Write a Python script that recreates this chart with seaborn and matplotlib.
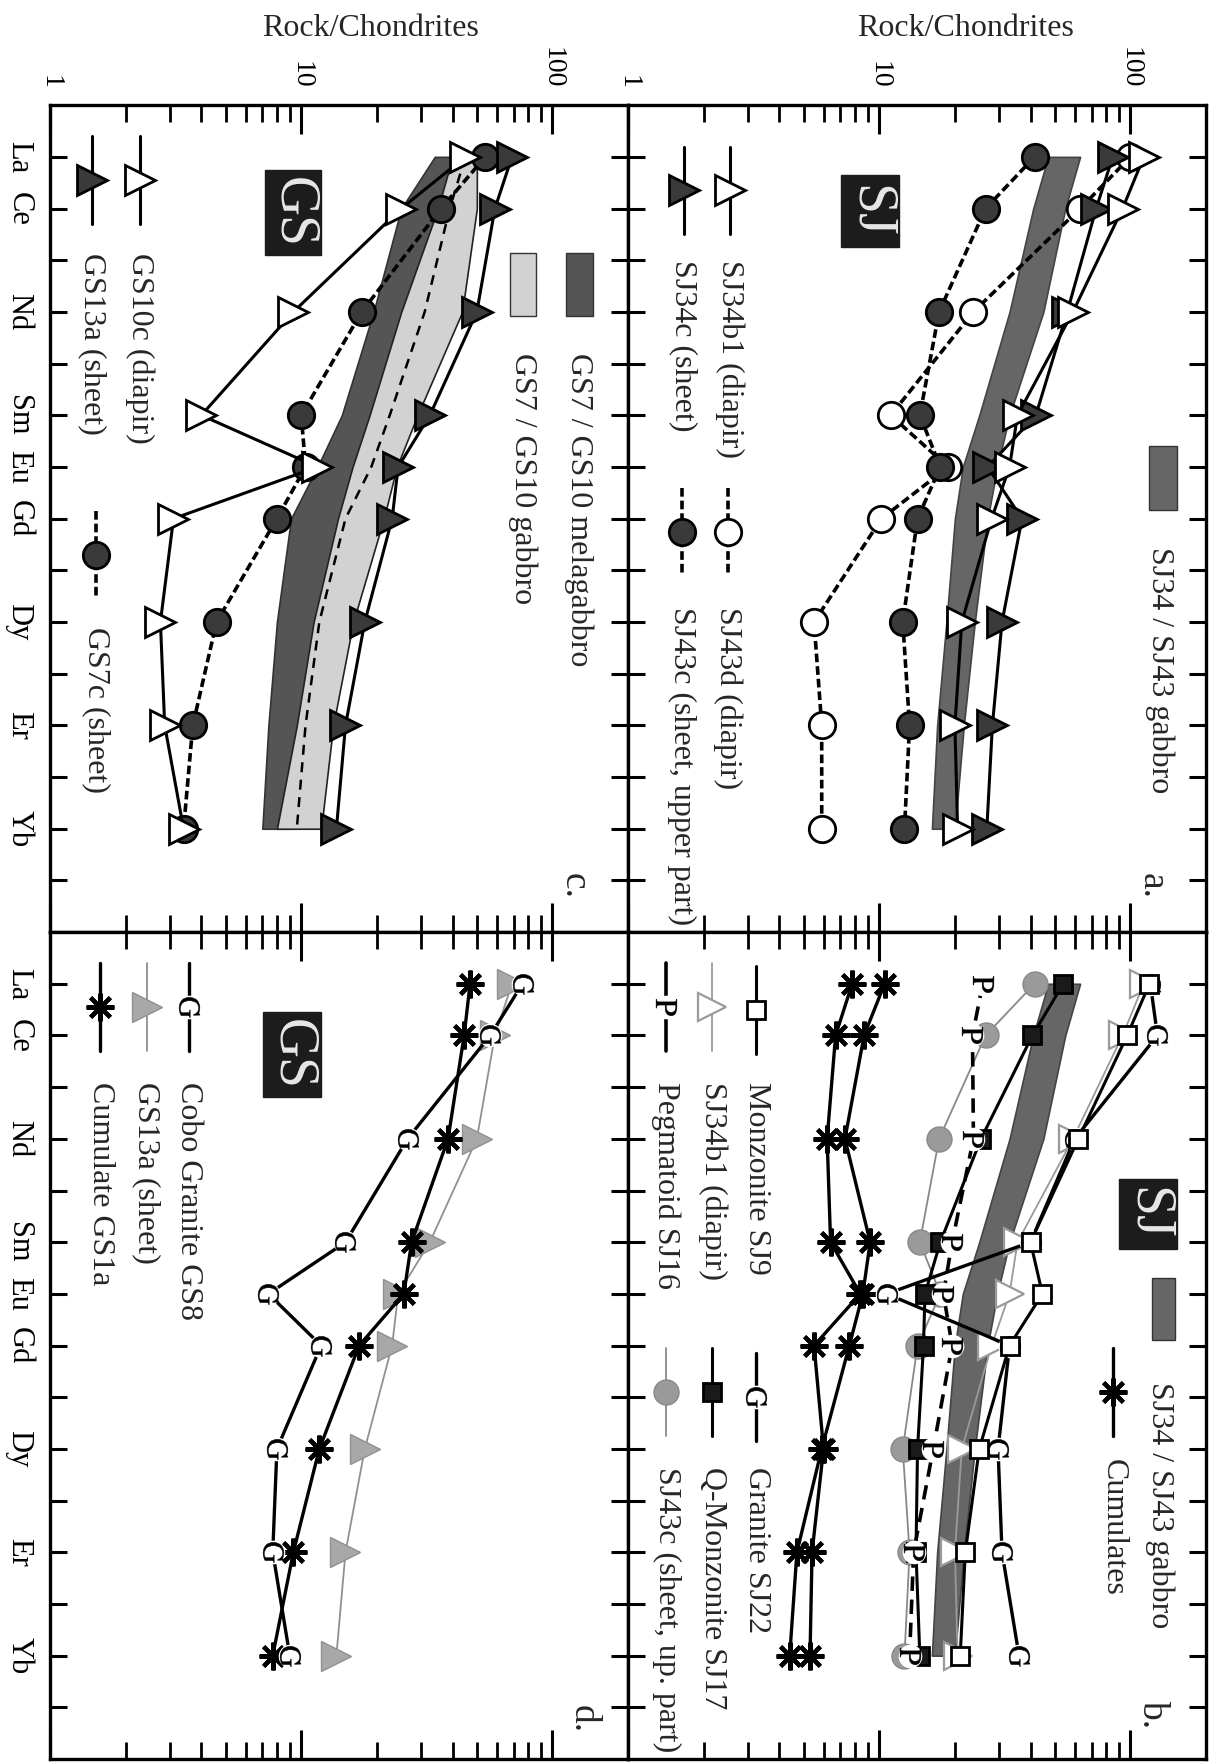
import matplotlib
matplotlib.use("Agg")
import matplotlib.pyplot as plt
import seaborn as sns
from matplotlib.markers import MarkerStyle
from matplotlib.patches import Rectangle
from matplotlib.transforms import Affine2D
from matplotlib.ticker import FixedLocator, FixedFormatter, LogLocator, NullFormatter

# REE on the (rotated) element axis, placed by atomic number
ree = ["La", "Ce", "Nd", "Sm", "Eu", "Gd", "Dy", "Er", "Yb"]
ree_z = [57, 58, 60, 62, 63, 64, 66, 68, 70]

# SJ samples (panels a, b), rock / chondrite
sj34b1 = [113, 93, 59, 35.5, 33, 28, 21.3, 20, 20.5]
sj34c = [85, 73, 56, 42, 27, 37, 30.8, 28.2, 26.8]
sj43d = [100, 63, 23.7, 11.1, 18.8, 10.2, 5.5, 5.9, 5.9]
sj43c = [41.5, 26.5, 17.3, 14.5, 17.5, 14.2, 12.4, 13.2, 12.6]
sj_gabbro_lo = [47, 41, 33, 25, 21.5, 20, 18.5, 17, 16.2]
sj_gabbro_hi = [63, 55, 45, 33, 29.5, 27, 24, 21.7, 20]
sj9_monzonite = [119, 97, 62, 40, 44.6, 33, 25, 22, 21]
sj22_granite = [120, 128, 60, 40, 10.7, 33, 29.7, 30.8, 36]
sj16_pegmatoid = [25.8, 23.5, 23.7, 19.5, 18, 19.5, 16.4, 13.7, 13.2]
sj17_qmonzonite = [54, 40.7, 25.4, 17.5, 15.2, 15, 14.2, 14, 14.5]
sj_cumulate_1 = [10.5, 8.7, 7.3, 9.2, 8.6, 7.6, 5.9, 4.7, 4.4]
sj_cumulate_2 = [7.8, 6.7, 6.2, 6.4, 8.4, 5.5, 6.0, 5.4, 5.3]

# GS samples (panels c, d)
gs10c = [45, 25, 9.3, 4.0, 11.6, 3.1, 2.75, 2.86, 3.4]
gs13a = [69, 59, 50, 32.5, 24.3, 23, 17.9, 15, 13.8]
gs7c = [54, 36, 17.4, 10, 10.4, 8.0, 4.6, 3.7, 3.4]
gs_melagabbro_lo = [34, 25, 19.4, 14.5, 11.6, 9.1, 8, 7.4, 7.0]
gs_melagabbro_hi = [42, 36, 28, 21.7, 16.7, 14.5, 11.6, 10.4, 9.0]
gs_gabbro_lo = [40, 35, 25, 18.7, 16, 14, 11.2, 9.6, 8.0]
gs_gabbro_hi = [50, 50, 43.7, 29, 24, 21.3, 16.1, 13.4, 12]
gs_gabbro_mid = [45, 39, 31, 22.5, 19, 15, 11.8, 10.4, 9.6]
gs8_granite = [76, 56.5, 26.5, 15, 7.4, 12, 8.0, 7.7, 9.0]
gs1a_cumulate = [47, 44.5, 38.4, 27.5, 25.6, 17, 11.8, 9.3, 7.7]

sns.set_style("ticks", {"axes.edgecolor": "black", "xtick.color": "black", "ytick.color": "black"})
plt.rcParams["font.family"] = ["Liberation Serif", "DejaVu Serif"]
plt.rcParams["mathtext.fontset"] = "stix"

K = "black"
DARK = "#3a3a3a"
GREY = "#9a9a9a"
FS = 23


def letter(ch):
    return MarkerStyle(r"$\mathrm{%s}$" % ch, transform=Affine2D().rotate_deg(-90))


def style(marker, ms, mfc, mec=K, color=K, lw=2.2, ls="-", mew=2.0):
    return dict(marker=marker, markersize=ms, markerfacecolor=mfc, markeredgecolor=mec,
                markeredgewidth=mew, color=color, linewidth=lw, linestyle=ls)


DASH = (0, (2.4, 1.1))
LONGDASH = (0, (4.0, 2.4))
S_OPEN_TRI = style(">", 22, "white")
S_FILL_TRI = style(">", 22, DARK)
S_OPEN_CIRC = style("o", 19, "white", ls=DASH, lw=2.6)
S_FILL_CIRC = style("o", 19, DARK, ls=DASH, lw=2.6)
S_OPEN_SQ = style("s", 12.5, "white")
S_FILL_SQ = style("s", 12.5, "#1a1a1a")
S_GREY_TRI = style(">", 20, "white", mec=GREY, color=GREY, lw=1.3, mew=1.6)
S_GREY_CIRC = style("o", 18, GREY, mec="#888888", color="#888888", lw=1.3, mew=1.0)
S_GREY_TRI_FILL = style(">", 21, "#a8a8a8", mec="#909090", color="#909090", lw=1.3, mew=1.0)
S_STAR = style((8, 2, 90), 20, K, lw=2.4, mew=3.0)
S_G = style(None, 0, K, lw=2.4)
S_P = style(None, 0, K, lw=2.6, ls=LONGDASH)
S_P_KEY = style(None, 0, K, lw=2.6)


def spider(ax, values, st, z=3):
    sns.lineplot(x=values, y=ree_z, ax=ax, sort=False, estimator=None, errorbar=None,
                 zorder=z, **st)


def letters(ax, values, ch, z=5):
    ax.plot(values, ree_z, ls="none", marker="o", ms=17, mfc="white", mec="none", zorder=z)
    ax.plot(values, ree_z, ls="none", marker=letter(ch), ms=15, mfc=K, mec=K, mew=0.3, zorder=z + 1)


def band(ax, lo, hi, face, edge="#333333", z=2):
    ax.fill_betweenx(ree_z, lo, hi, facecolor=face, edgecolor=edge, linewidth=1.2, zorder=z)


def key(ax, xf, zm, zt, label, st, span=(-0.85, 0.85), ch=None):
    tr = ax.get_yaxis_transform()
    ax.plot([xf, xf], [zm + span[0], zm + span[1]], transform=tr, color=st["color"],
            lw=st["linewidth"], ls=st["linestyle"], zorder=6)
    if ch is not None:
        ax.plot([xf], [zm], transform=tr, ls="none", marker="o", ms=17, mfc="white", mec="none", zorder=7)
        ax.plot([xf], [zm], transform=tr, ls="none", marker=letter(ch), ms=15, mfc=K, mec=K,
                mew=0.3, zorder=8)
    elif st["marker"] is not None:
        ax.plot([xf], [zm], transform=tr, ls="none", marker=st["marker"], ms=st["markersize"],
                mfc=st["markerfacecolor"], mec=st["markeredgecolor"], mew=st["markeredgewidth"],
                zorder=7)
    ax.text(xf, zt, label, transform=tr, rotation=-90, ha="center", va="top", fontsize=FS)


def patch_key(ax, x0, x1, z0, z1, face, xt, zt, label):
    tr = ax.get_yaxis_transform()
    ax.add_patch(Rectangle((x0, z0), x1 - x0, z1 - z0, transform=tr, facecolor=face,
                           edgecolor="#333333", lw=1.0, zorder=6))
    ax.text(xt, zt, label, transform=tr, rotation=-90, ha="center", va="top", fontsize=FS)


def tag_box(ax, x0, x1, z0, z1, label):
    tr = ax.get_yaxis_transform()
    ax.add_patch(Rectangle((x0, z0), x1 - x0, z1 - z0, transform=tr, facecolor="#1c1c1c",
                           edgecolor="#1c1c1c", zorder=6))
    ax.text((x0 + x1) / 2, (z0 + z1) / 2, label, transform=tr, rotation=-90, ha="center",
            va="center", fontsize=40, color="#e8e8e8", zorder=7)


def panel_letter(ax, xf, zt, label):
    ax.text(xf, zt, label, transform=ax.get_yaxis_transform(), rotation=-90, ha="center",
            va="top", fontsize=27)


def setup(ax, top_labels, left_labels, label_x):
    ax.set_xscale("log")
    ax.xaxis.set_major_locator(FixedLocator([1, 10, 100]))
    ax.xaxis.set_major_formatter(FixedFormatter(["1", "10", "100"]))
    ax.xaxis.set_minor_locator(LogLocator(base=10, subs=range(2, 10)))
    ax.xaxis.set_minor_formatter(NullFormatter())
    zt = list(range(57, 72))
    names = dict(zip(ree_z, ree))
    ax.yaxis.set_major_locator(FixedLocator(zt))
    ax.yaxis.set_major_formatter(FixedFormatter([names.get(z, "") for z in zt]))
    ax.tick_params(axis="x", which="major", direction="in", length=21, width=2.2,
                   top=True, bottom=True, labeltop=top_labels, labelbottom=False,
                   labelsize=20, labelrotation=-90, pad=12)
    ax.tick_params(axis="x", which="minor", direction="in", length=12, width=2.0,
                   top=True, bottom=True)
    ax.tick_params(axis="y", which="major", direction="in", length=12, width=2.2,
                   left=True, right=True, labelleft=left_labels, labelright=False,
                   labelsize=22, labelrotation=-90, pad=12)
    for sp in ax.spines.values():
        sp.set_linewidth(2.4)
        sp.set_color(K)
    if top_labels:
        ax.text(label_x, 1.093, "Rock/Chondrites", transform=ax.transAxes, ha="center",
                va="center", fontsize=FS)


def finish(ax):
    ax.set_xlim(1, 200)
    ax.set_ylim(72, 56)
    ax.set_xlabel("")
    ax.set_ylabel("")
    plt.setp(ax.get_yticklabels(), va="center")


fig = plt.figure(figsize=(12.21, 17.62), dpi=100)
W, H = 0.4734, 0.4693
X0, Y0 = 0.041, 0.0017
ax_c = fig.add_axes([X0, Y0 + H, W, H])
ax_a = fig.add_axes([X0 + W, Y0 + H, W, H])
ax_d = fig.add_axes([X0, Y0, W, H])
ax_b = fig.add_axes([X0 + W, Y0, W, H])

setup(ax_a, True, False, 0.583)
setup(ax_b, False, False, 0.583)
setup(ax_c, True, True, 0.554)
setup(ax_d, False, True, 0.554)

# ---- a. SJ gabbro and its samples
band(ax_a, sj_gabbro_lo, sj_gabbro_hi, "#666666", "#444444")
spider(ax_a, sj43d, S_OPEN_CIRC)
spider(ax_a, sj43c, S_FILL_CIRC)
spider(ax_a, sj34c, S_FILL_TRI)
spider(ax_a, sj34b1, S_OPEN_TRI)
tag_box(ax_a, 0.368, 0.468, 57.35, 58.74, "SJ")
key(ax_a, 0.176, 57.65, 59.0, "SJ34b1 (diapir)", S_OPEN_TRI)
key(ax_a, 0.096, 57.65, 59.0, "SJ34c (sheet)", S_FILL_TRI)
key(ax_a, 0.172, 64.26, 65.7, "SJ43d (diapir)", S_OPEN_CIRC)
key(ax_a, 0.093, 64.26, 65.7, "SJ43c (sheet, upper part)", S_FILL_CIRC)
patch_key(ax_a, 0.902, 0.949, 62.6, 63.84, "#666666", 0.919, 64.55, "SJ34 / SJ43 gabbro")
panel_letter(ax_a, 0.906, 70.85, "a.")

# ---- b. SJ differentiates and cumulates
band(ax_b, sj_gabbro_lo, sj_gabbro_hi, "#666666", "#444444")
spider(ax_b, sj43c, S_GREY_CIRC)
spider(ax_b, sj34b1, S_GREY_TRI)
spider(ax_b, sj_cumulate_1, S_STAR)
spider(ax_b, sj_cumulate_2, S_STAR)
spider(ax_b, sj16_pegmatoid, S_P)
letters(ax_b, sj16_pegmatoid, "P")
spider(ax_b, sj17_qmonzonite, S_FILL_SQ)
spider(ax_b, sj22_granite, S_G)
letters(ax_b, sj22_granite, "G")
spider(ax_b, sj9_monzonite, S_OPEN_SQ, z=7)
tag_box(ax_b, 0.849, 0.949, 60.77, 62.13, "SJ")
patch_key(ax_b, 0.906, 0.946, 62.7, 63.9, "#666666", 0.919, 64.7, "SJ34 / SJ43 gabbro")
key(ax_b, 0.839, 64.9, 66.2, "Cumulates", S_STAR)
key(ax_b, 0.222, 57.5, 58.9, "Monzonite SJ9", S_OPEN_SQ)
key(ax_b, 0.146, 57.45, 58.9, "SJ34b1 (diapir)", S_GREY_TRI)
key(ax_b, 0.066, 57.45, 58.9, "Pegmatoid SJ16", S_P_KEY, ch="P")
key(ax_b, 0.222, 65.0, 66.35, "Granite SJ22", S_G, ch="G")
key(ax_b, 0.146, 64.9, 66.35, "Q-Monzonite SJ17", S_FILL_SQ)
key(ax_b, 0.066, 64.9, 66.35, "SJ43c (sheet, up. part)", S_GREY_CIRC)
panel_letter(ax_b, 0.906, 70.85, "b.")

# ---- c. GS gabbros
band(ax_c, gs_melagabbro_lo, gs_melagabbro_hi, "#555555", "#333333")
band(ax_c, gs_gabbro_lo, gs_gabbro_hi, "#d2d2d2", "#222222")
sns.lineplot(x=gs_gabbro_mid, y=ree_z, ax=ax_c, sort=False, estimator=None, errorbar=None,
             color=K, linewidth=1.8, linestyle=(0, (4, 3)), zorder=2.5)
spider(ax_c, gs7c, S_FILL_CIRC)
spider(ax_c, gs10c, S_OPEN_TRI)
spider(ax_c, gs13a, S_FILL_TRI)
tag_box(ax_c, 0.372, 0.469, 57.26, 58.9, "GS")
patch_key(ax_c, 0.893, 0.939, 58.86, 60.08, "#555555", 0.914, 60.8, "GS7 / GS10 melagabbro")
patch_key(ax_c, 0.796, 0.841, 58.86, 60.08, "#d2d2d2", 0.817, 60.8, "GS7 / GS10 gabbro")
key(ax_c, 0.156, 57.45, 58.86, "GS10c (diapir)", S_OPEN_TRI)
key(ax_c, 0.073, 57.45, 58.86, "GS13a (sheet)", S_FILL_TRI)
key(ax_c, 0.08, 64.7, 66.1, "GS7c (sheet)", S_FILL_CIRC)
panel_letter(ax_c, 0.907, 70.85, "c.")

# ---- d. GS granite and cumulate
spider(ax_d, gs13a, S_GREY_TRI_FILL)
spider(ax_d, gs1a_cumulate, S_STAR)
spider(ax_d, gs8_granite, S_G)
letters(ax_d, gs8_granite, "G")
tag_box(ax_d, 0.368, 0.469, 57.55, 59.2, "GS")
key(ax_d, 0.24, 57.45, 58.9, "Cobo Granite GS8", S_G, ch="G")
key(ax_d, 0.167, 57.45, 58.9, "GS13a (sheet)", S_GREY_TRI_FILL)
key(ax_d, 0.087, 57.45, 58.9, "Cumulate GS1a", S_STAR)
panel_letter(ax_d, 0.921, 70.95, "d.")

for ax in (ax_a, ax_b, ax_c, ax_d):
    finish(ax)

fig.savefig("out.png", dpi=100)
